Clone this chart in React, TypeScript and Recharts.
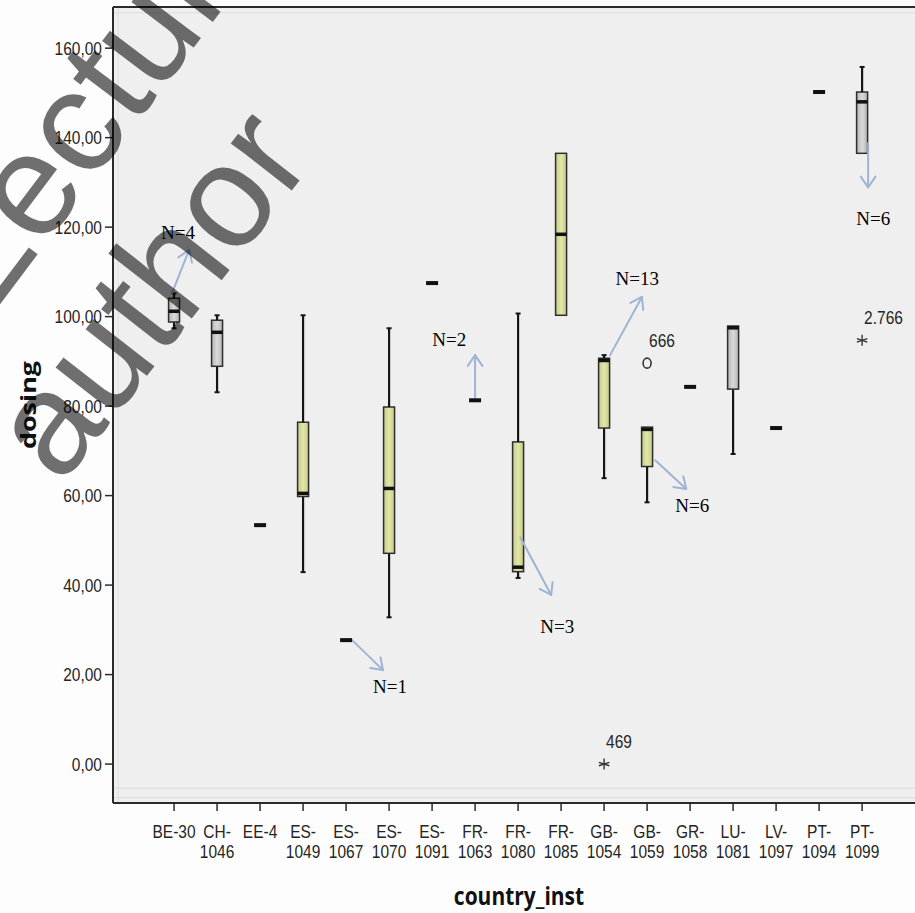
import React from 'react';
import {
  ComposedChart,
  Bar,
  Scatter,
  XAxis,
  YAxis,
  CartesianGrid,
  ReferenceLine,
} from 'recharts';

// ---------- data ----------
const categories = [
  'BE-30', 'CH-1046', 'EE-4', 'ES-1049', 'ES-1067', 'ES-1070', 'ES-1091', 'FR-1063',
  'FR-1080', 'FR-1085', 'GB-1054', 'GB-1059', 'GR-1058', 'LU-1081', 'LV-1097', 'PT-1094', 'PT-1099',
];
const whiskerLow = [97.4, 83.1, 53.4, 42.9, 27.7, 32.8, 107.5, 81.3, 41.6, 100.3, 63.9, 58.5, 84.3, 69.3, 75.1, 150.2, 136.5];
const quartile1 = [98.8, 88.9, 53.4, 59.8, 27.7, 47.1, 107.5, 81.3, 43.0, 100.3, 75.1, 66.5, 84.3, 83.8, 75.1, 150.2, 136.5];
const medians = [101.2, 96.5, 53.4, 60.5, 27.7, 61.6, 107.5, 81.3, 44.0, 118.4, 90.2, 74.8, 84.3, 97.5, 75.1, 150.2, 148.0];
const quartile3 = [104.1, 99.2, 53.4, 76.4, 27.7, 79.8, 107.5, 81.3, 72.0, 136.5, 90.7, 75.3, 84.3, 97.9, 75.1, 150.2, 150.2];
const whiskerHigh = [105.2, 100.3, 53.4, 100.3, 27.7, 97.4, 107.5, 81.3, 100.7, 136.5, 91.4, 75.3, 84.3, 97.9, 75.1, 150.2, 155.8];
const boxTone = ['gray', 'gray', 'none', 'yellow', 'none', 'yellow', 'none', 'none', 'yellow', 'yellow', 'yellow', 'yellow', 'none', 'gray', 'none', 'none', 'gray'];

const outlierCat = [10, 11, 16];
const outlierVal = [0, 89.6, 94.7];
const outlierId = ['469', '666', '2.766'];
const outlierMark = ['star', 'circle', 'star'];

const noteText = ['N=4', 'N=1', 'N=2', 'N=3', 'N=13', 'N=6', 'N=6'];
const noteX = [0.09, 5.02, 6.4, 8.91, 10.77, 12.05, 16.26];
const noteY = [118.7, 17.4, 95.0, 30.8, 108.6, 57.9, 122.0];
const arrowX1 = [-0.05, 4.14, 7.0, 8.05, 10.14, 11.19, 16.14];
const arrowY1 = [105.2, 27.7, 81.8, 50.7, 91.4, 67.9, 138.8];
const arrowX2 = [0.35, 4.86, 7.0, 8.77, 10.88, 11.91, 16.14];
const arrowY2 = [114.9, 21.0, 91.4, 37.8, 104.4, 61.5, 128.9];

const yTicks = [0, 20, 40, 60, 80, 100, 120, 140, 160];
const Y_MIN = -8.7;
const Y_MAX = 169.2;
const X_MIN = -1.42;
const X_MAX = 17.23;
// faint inner frame of the plot panel (data units)
const innerFrameY = [-5.4, -7.5, 167.9];
const innerFrameX = [-1.3];

// ---------- derived tables ----------
const rows = categories.map((c, i) => ({
  idx: i,
  name: c,
  base: whiskerLow[i],
  lowW: quartile1[i] - whiskerLow[i],
  box: quartile3[i] - quartile1[i],
  highW: whiskerHigh[i] - quartile3[i],
  median: medians[i],
  tone: boxTone[i],
}));
const outliers = outlierCat.map((c, i) => ({ idx: c, out: outlierVal[i], id: outlierId[i], mark: outlierMark[i] }));
const notes = noteText.map((t, i) => ({ idx: noteX[i], val: noteY[i], text: t }));

// ---------- styles ----------
const INK = '#252525';
const TICK_FONT = "'Liberation Sans', Arial, sans-serif";
const TITLE_FONT = "'Open Sans', 'DejaVu Sans', sans-serif";
const NOTE_FONT = "'Liberation Serif', 'Times New Roman', serif";
const ARROW = '#9db4d2';
const BOX_W = 11;
const GRADS: Record<string, [string, string]> = {
  gray: ['#b4b4b4', '#dadada'],
  yellow: ['#c3c78a', '#e4e8a6'],
};

const splitLabel = (s: string) => {
  if (s.length <= 5) return [s];
  const k = s.indexOf('-');
  return [s.slice(0, k + 1), s.slice(k + 1)];
};

const XTick = (props: any) => {
  const { x, y, payload } = props;
  const lines = splitLabel(categories[payload.value] ?? '');
  return (
    <g>
      {lines.map((ln, j) => (
        <text
          key={j}
          transform={`translate(${x},${y + 25 + j * 20}) scale(1,1.2)`}
          textAnchor="middle"
          fontFamily={TICK_FONT}
          fontSize={15.5}
          fill={INK}
        >
          {ln}
        </text>
      ))}
    </g>
  );
};

const YTick = (props: any) => {
  const { x, y, payload } = props;
  const label = Number(payload.value).toFixed(2).replace('.', ',');
  return (
    <text
      transform={`translate(${x - 1},${y + 6.5}) scale(1,1.2)`}
      textAnchor="end"
      fontFamily={TICK_FONT}
      fontSize={15.5}
      fill={INK}
    >
      {label}
    </text>
  );
};

const BoxShape = (p: any) => {
  const { x, y, width, height, payload } = p;
  if (!payload || payload.tone === 'none' || !height) return <g />;
  const cx = x + width / 2;
  const [edge, mid] = GRADS[payload.tone];
  const gid = `boxgrad-${payload.tone}`;
  return (
    <g>
      <defs>
        <linearGradient id={gid} x1="0" y1="0" x2="1" y2="0">
          <stop offset="0" stopColor={edge} />
          <stop offset="0.5" stopColor={mid} />
          <stop offset="1" stopColor={edge} />
        </linearGradient>
      </defs>
      <rect x={cx - BOX_W / 2} y={y} width={BOX_W} height={height} fill={`url(#${gid})`} stroke="#2e2e2e" strokeWidth={1.5} />
    </g>
  );
};

const LowWhisker = (p: any) => {
  const { x, y, width, height } = p;
  if (!height || height < 0.5) return <g />;
  const cx = x + width / 2;
  return (
    <g stroke="#151515">
      <line x1={cx} y1={y} x2={cx} y2={y + height} strokeWidth={2.2} />
      <line x1={cx - 2.5} y1={y + height} x2={cx + 2.5} y2={y + height} strokeWidth={2} />
    </g>
  );
};

const HighWhisker = (p: any) => {
  const { x, y, width, height } = p;
  if (!height || height < 0.5) return <g />;
  const cx = x + width / 2;
  return (
    <g stroke="#151515">
      <line x1={cx} y1={y} x2={cx} y2={y + height} strokeWidth={2.2} />
      <line x1={cx - 2.5} y1={y} x2={cx + 2.5} y2={y} strokeWidth={2} />
    </g>
  );
};

const MedianShape = (p: any) => {
  const { cx, cy, payload } = p;
  if (cx == null || cy == null) return <g />;
  const single = payload && payload.tone === 'none';
  const w = single ? 12 : BOX_W;
  const h = single ? 4 : 3.5;
  return <rect x={cx - w / 2} y={cy - h / 2} width={w} height={h} fill="#111" />;
};

const OutlierShape = (p: any) => {
  const { cx, cy, payload } = p;
  if (cx == null || cy == null) return <g />;
  const r = 5.5;
  return (
    <g>
      {payload.mark === 'circle' ? (
        <ellipse cx={cx} cy={cy} rx={4} ry={5} fill="none" stroke="#333" strokeWidth={1.6} />
      ) : (
        <g stroke="#333" strokeWidth={1.4}>
          <line x1={cx} y1={cy - r} x2={cx} y2={cy + r} />
          <line x1={cx - r * 0.95} y1={cy - r * 0.31} x2={cx + r * 0.95} y2={cy + r * 0.31} />
          <line x1={cx - r * 0.95} y1={cy + r * 0.31} x2={cx + r * 0.95} y2={cy - r * 0.31} />
        </g>
      )}
      <text
        transform={`translate(${cx + 2},${cy - 16}) scale(1,1.2)`}
        fontFamily={TICK_FONT}
        fontSize={15.5}
        fill={INK}
      >
        {payload.id}
      </text>
    </g>
  );
};

const NoteShape = (p: any) => {
  const { cx, cy, payload } = p;
  if (cx == null || cy == null) return <g />;
  return (
    <text x={cx} y={cy + 6.5} textAnchor="middle" fontFamily={NOTE_FONT} fontSize={19} fill="#000">
      {payload.text}
    </text>
  );
};

const ArrowShape = (p: any) => {
  const { x1, y1, x2, y2 } = p;
  if ([x1, y1, x2, y2].some((v) => v == null || Number.isNaN(v))) return <g />;
  const ang = Math.atan2(y2 - y1, x2 - x1);
  const L = 13;
  const a = 0.6;
  const hx1 = x2 - L * Math.cos(ang - a);
  const hy1 = y2 - L * Math.sin(ang - a);
  const hx2 = x2 - L * Math.cos(ang + a);
  const hy2 = y2 - L * Math.sin(ang + a);
  return (
    <g stroke={ARROW} strokeWidth={2} fill="none" strokeLinecap="round" strokeLinejoin="round">
      <line x1={x1} y1={y1} x2={x2} y2={y2} />
      <polyline points={`${hx1},${hy1} ${x2},${y2} ${hx2},${hy2}`} />
    </g>
  );
};

const YTitle = (props: any) => {
  const vb = props.viewBox || { x: 0, y: 7, width: 113, height: 796 };
  const cy = vb.y + vb.height / 2;
  return (
    <text
      transform={`translate(${vb.x + 36},${cy}) rotate(-90) scale(1.28,1)`}
      textAnchor="middle"
      fontFamily={TITLE_FONT}
      fontWeight={700}
      fontSize={21}
      fill="#111"
    >
      dosing
    </text>
  );
};

const XTitle = (props: any) => {
  const vb = props.viewBox || { x: 113, y: 803, width: 802, height: 110 };
  return (
    <text
      transform={`translate(${vb.x + vb.width / 2 + 5},${vb.y + 102}) scale(1,1.18)`}
      textAnchor="middle"
      fontFamily={TITLE_FONT}
      fontWeight={700}
      fontSize={21}
      fill="#111"
    >
      country_inst
    </text>
  );
};

export default function App() {
  return (
    <div style={{ position: 'absolute', left: 0, top: 0, width: 915, height: 913, background: '#fdfdfd', overflow: 'hidden' }}>
      <ComposedChart width={915} height={913} data={rows} margin={{ top: 7, right: 0, bottom: 0, left: 0 }}>
        <CartesianGrid fill="#efefef" horizontal={false} vertical={false} />
        <XAxis
          dataKey="idx"
          type="number"
          domain={[X_MIN, X_MAX]}
          allowDataOverflow
          ticks={categories.map((_, i) => i)}
          interval={0}
          height={110}
          tickSize={8}
          tick={<XTick />}
          axisLine={{ stroke: '#2a2a2a', strokeWidth: 2 }}
          tickLine={{ stroke: '#2a2a2a', strokeWidth: 1.5 }}
          label={<XTitle />}
        />
        <XAxis xAxisId="note" dataKey="idx" type="number" domain={[X_MIN, X_MAX]} allowDataOverflow hide />
        <YAxis
          type="number"
          domain={[Y_MIN, Y_MAX]}
          allowDataOverflow
          ticks={yTicks}
          interval={0}
          width={113}
          tickSize={8}
          tick={<YTick />}
          axisLine={{ stroke: '#2a2a2a', strokeWidth: 2 }}
          tickLine={{ stroke: '#2a2a2a', strokeWidth: 1.5 }}
          label={<YTitle />}
        />
        {innerFrameY.map((v, i) => (
          <ReferenceLine key={`fy${i}`} y={v} stroke="#dddddd" strokeWidth={1} />
        ))}
        {innerFrameX.map((v, i) => (
          <ReferenceLine key={`fx${i}`} xAxisId="note" x={v} stroke="#dddddd" strokeWidth={1} />
        ))}
        <ReferenceLine y={Y_MAX} stroke="#2a2a2a" strokeWidth={2} />
        <Bar dataKey="base" stackId="bp" barSize={BOX_W} fill="none" isAnimationActive={false} />
        <Bar dataKey="lowW" stackId="bp" barSize={BOX_W} shape={<LowWhisker />} isAnimationActive={false} />
        <Bar dataKey="box" stackId="bp" barSize={BOX_W} shape={<BoxShape />} isAnimationActive={false} />
        <Bar dataKey="highW" stackId="bp" barSize={BOX_W} shape={<HighWhisker />} isAnimationActive={false} />
        <Scatter dataKey="median" shape={<MedianShape />} isAnimationActive={false} />
        <Scatter data={outliers} dataKey="out" shape={<OutlierShape />} isAnimationActive={false} />
        {arrowX1.map((_, i) => (
          <ReferenceLine
            key={i}
            xAxisId="note"
            segment={[
              { x: arrowX1[i], y: arrowY1[i] },
              { x: arrowX2[i], y: arrowY2[i] },
            ]}
            shape={<ArrowShape />}
          />
        ))}
        <Scatter xAxisId="note" data={notes} dataKey="val" shape={<NoteShape />} isAnimationActive={false} />
      </ComposedChart>
      <svg
        width={915}
        height={913}
        style={{ position: 'absolute', left: 0, top: 0, pointerEvents: 'none' }}
      >
        <g fill="#000" fillOpacity={0.56} fontFamily="'Liberation Sans', Arial, sans-serif">
          <text transform="translate(108,98) rotate(-53)" x={0} y={38} textAnchor="middle" fontSize={146}>
            Lecture
          </text>
          <text transform="translate(158,300) rotate(-52)" x={0} y={38} textAnchor="middle" fontSize={146}>
            author
          </text>
        </g>
      </svg>
    </div>
  );
}
